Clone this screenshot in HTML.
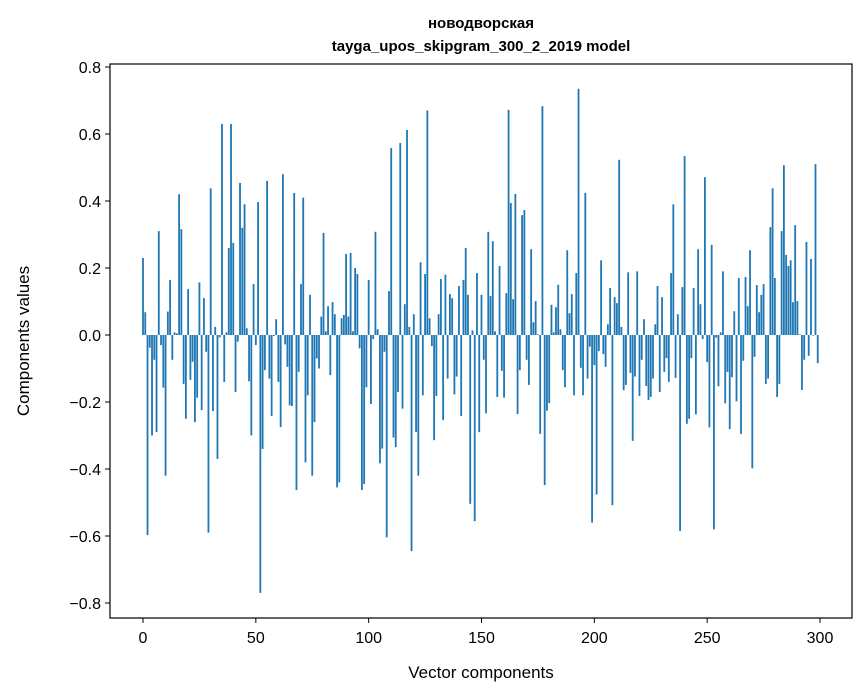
<!DOCTYPE html>
<html><head><meta charset="utf-8"><style>
body{margin:0;background:#fff}
svg{display:block;font-family:"Liberation Sans","DejaVu Sans",sans-serif}
</style></head><body>
<svg id="chart" width="867" height="696">
<text x="481" y="28" text-anchor="middle" font-size="15" font-weight="bold">новодворская</text>
<text x="481" y="51" text-anchor="middle" font-size="15" font-weight="bold">tayga_upos_skipgram_300_2_2019 model</text>
<text transform="translate(29,341) rotate(-90)" text-anchor="middle" font-size="17">Components values</text>
<text x="481" y="678" text-anchor="middle" font-size="17">Vector components</text>
<g id="bars"></g>
<g id="ticks"></g>
<rect x="110" y="64" width="742" height="554" fill="none" stroke="#000" stroke-width="1.2"/>
</svg>
<script>
const values=[0.23,0.068,-0.597,-0.038,-0.30,-0.074,-0.29,0.31,-0.03,-0.157,-0.42,0.07,0.164,-0.074,0.008,0.005,0.42,0.316,-0.146,-0.25,0.137,-0.134,-0.08,-0.26,-0.187,0.157,-0.224,0.11,-0.05,-0.59,0.438,-0.227,0.024,-0.37,-0.007,0.63,-0.14,0.008,0.26,0.63,0.275,-0.17,-0.02,0.454,0.32,0.39,0.02,-0.138,
-0.30,0.152,-0.03,0.397,-0.77,-0.34,-0.105,0.46,-0.13,-0.242,-0.003,0.047,-0.14,-0.275,0.48,-0.028,-0.095,-0.21,-0.212,0.424,-0.463,-0.11,0.152,0.41,-0.38,-0.18,0.12,-0.42,-0.26,-0.07,-0.10,0.055,0.305,0.011,0.086,-0.12,0.098,0.062,-0.455,-0.44,0.05,0.06,0.242,0.055,0.245,0.011,0.2,0.182,-0.04,-0.463,-0.445,-0.156,
0.164,-0.206,-0.012,0.308,0.017,-0.383,-0.339,-0.05,-0.604,0.131,0.558,-0.306,-0.335,-0.17,0.573,-0.22,0.092,0.612,0.024,-0.645,0.062,-0.29,-0.42,0.217,-0.18,0.182,0.67,0.05,-0.033,-0.314,-0.182,0.062,0.167,-0.254,0.18,-0.13,0.122,0.11,-0.177,-0.124,0.146,-0.242,0.164,0.26,0.12,-0.504,0.014,-0.556,0.185,-0.29,0.12,
-0.074,-0.234,0.308,0.116,0.28,0.011,-0.185,0.206,-0.107,-0.187,0.125,0.672,0.394,0.107,0.421,-0.236,-0.105,0.358,0.373,-0.074,-0.149,0.256,0.038,0.101,0.002,-0.295,0.683,-0.448,-0.226,-0.203,0.09,0.008,0.083,0.15,0.017,-0.105,-0.156,0.253,0.065,0.122,-0.18,0.185,0.735,-0.098,-0.18,0.424,-0.13,
-0.035,-0.56,-0.09,-0.476,-0.048,0.223,-0.057,-0.095,0.032,0.14,-0.508,0.113,0.095,0.523,0.024,-0.165,-0.149,0.187,-0.113,-0.316,-0.124,0.19,-0.182,-0.074,0.047,-0.152,-0.194,-0.185,-0.13,0.032,0.146,-0.17,0.113,-0.11,-0.069,-0.14,0.185,0.39,-0.128,0.062,-0.585,0.143,0.534,-0.265,-0.25,-0.069,0.14,-0.237,0.256,0.092,
-0.012,0.471,-0.081,-0.276,0.269,-0.58,-0.008,-0.153,0.008,0.19,-0.204,-0.11,-0.281,-0.126,0.071,-0.198,0.17,-0.295,-0.077,0.173,0.086,0.253,-0.398,-0.065,0.149,0.068,0.12,0.152,-0.146,-0.13,0.322,0.438,0.17,-0.185,-0.146,0.31,0.507,0.239,0.206,0.223,0.098,0.328,0.101,0.002,-0.164,-0.074,0.278,-0.062,0.227,-0.002,0.51,-0.084];
const xTicks=[0,50,100,150,200,250,300];
const yTicks=[-0.8,-0.6,-0.4,-0.2,0.0,0.2,0.4,0.6,0.8];
const yTickLabels=["−0.8","−0.6","−0.4","−0.2","0.0","0.2","0.4","0.6","0.8"];
const NS="http://www.w3.org/2000/svg";
function xs(v){return 143+v*(820-143)/300;}
function ys(v){return 335-v*335;}
const bars=document.getElementById('bars');
values.forEach((v,i)=>{
  const r=document.createElementNS(NS,'rect');
  const x0=xs(i-0.4),x1=xs(i+0.4);
  const y0=Math.min(ys(v),ys(0)),h=Math.abs(ys(v)-ys(0));
  r.setAttribute('x',x0);r.setAttribute('width',x1-x0);
  r.setAttribute('y',y0);r.setAttribute('height',Math.max(h,0.3));
  r.setAttribute('fill','#1f77b4');
  
  
  bars.appendChild(r);
});
const tg=document.getElementById('ticks');
xTicks.forEach(t=>{
  const l=document.createElementNS(NS,'line');
  l.setAttribute('x1',xs(t));l.setAttribute('x2',xs(t));l.setAttribute('y1',618);l.setAttribute('y2',623);
  l.setAttribute('stroke','#000');
  
  
  tg.appendChild(l);
  const tx=document.createElementNS(NS,'text');
  tx.setAttribute('x',xs(t));tx.setAttribute('y',643);tx.setAttribute('text-anchor','middle');tx.setAttribute('font-size','16');
  tx.textContent=t;
  
  
  tg.appendChild(tx);
});
yTicks.forEach((t,k)=>{
  const l=document.createElementNS(NS,'line');
  l.setAttribute('x1',105);l.setAttribute('x2',110);l.setAttribute('y1',ys(t));l.setAttribute('y2',ys(t));
  l.setAttribute('stroke','#000');
  
  
  tg.appendChild(l);
  const tx=document.createElementNS(NS,'text');
  tx.setAttribute('x',101);tx.setAttribute('y',ys(t)+6);tx.setAttribute('text-anchor','end');tx.setAttribute('font-size','16');
  tx.textContent=yTickLabels[k];
  
  
  tg.appendChild(tx);
});
</script>
</body></html>
